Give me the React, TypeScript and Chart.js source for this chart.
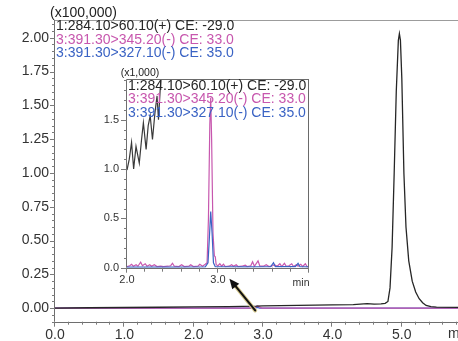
import React, { useEffect, useRef } from 'react';
import { Chart, registerables } from 'chart.js';
Chart.register(...registerables);

const FONT = '"Liberation Sans", Arial, Helvetica, sans-serif';
const C_BLACK = '#262626';
const C_MAG = '#c757ae';
const C_BLUE = '#3a63c4';

// ---------- main chart (x100,000) ----------
const mainBlackTime = [0.0, 0.5, 1.0, 1.5, 2.0, 2.5, 2.9, 3.0, 3.5, 4.0, 4.3, 4.5, 4.6, 4.7, 4.76, 4.8, 4.83, 4.86, 4.89, 4.92, 4.95, 4.965, 4.98, 5.0, 5.03, 5.06, 5.1, 5.15, 5.2, 5.25, 5.3, 5.35, 5.42, 5.5, 5.81];
const mainBlackVal = [0.0, 0.003, 0.005, 0.007, 0.009, 0.012, 0.015, 0.017, 0.02, 0.024, 0.026, 0.034, 0.03, 0.032, 0.036, 0.05, 0.15, 0.45, 1.0, 1.6, 1.98, 2.03, 1.98, 1.7, 1.0, 0.6, 0.35, 0.2, 0.12, 0.07, 0.04, 0.02, 0.012, 0.008, 0.006];
const mainMagTime = [0.0, 2.86, 2.92, 2.98, 5.81];
const mainMagVal = [0.0, 0.0, 0.017, 0.0, 0.0];
const mainBlueTime = [0.0, 2.88, 2.92, 2.95, 5.81];
const mainBlueVal = [0.0, 0.0, 0.0057, 0.0, 0.0];
const mainXTicks = [0, 1, 2, 3, 4, 5];
const mainXLabels = ['0.0', '1.0', '2.0', '3.0', '4.0', '5.0'];
const mainYTicks = [0, 0.25, 0.5, 0.75, 1.0, 1.25, 1.5, 1.75, 2.0];
const mainYLabels = ['0.00', '0.25', '0.50', '0.75', '1.00', '1.25', '1.50', '1.75', '2.00'];
const arrowFrom = [2.886, -0.017];
const arrowTo = [2.515, 0.218];

// ---------- inset chart (x1,000) ----------
const insetBlackTime = [2.0, 2.025, 2.05, 2.073, 2.099, 2.135, 2.16, 2.18, 2.21, 2.233, 2.255, 2.28, 2.307, 2.33, 2.346, 2.365, 2.38, 2.4, 2.5, 3.0, 4.0];
const insetBlackVal = [0.99, 1.1, 1.27, 1.0, 1.23, 1.06, 1.3, 1.47, 1.2, 1.44, 1.54, 1.3, 1.57, 1.74, 1.5, 1.81, 2.0, 2.3, 2.8, 3.2, 3.5];
const insetMagTime = [2.0, 2.03, 2.05, 2.07, 2.1, 2.12, 2.15, 2.17, 2.2, 2.22, 2.25, 2.27, 2.3, 2.33, 2.37, 2.4, 2.45, 2.48, 2.5, 2.52, 2.57, 2.6, 2.63, 2.68, 2.7, 2.73, 2.78, 2.8, 2.83, 2.86, 2.88, 2.895, 2.91, 2.92, 2.93, 2.945, 2.96, 2.97, 2.98, 3.0, 3.02, 3.04, 3.06, 3.08, 3.12, 3.15, 3.17, 3.2, 3.22, 3.26, 3.3, 3.32, 3.36, 3.38, 3.4, 3.44, 3.46, 3.5, 3.53, 3.56, 3.6, 3.62, 3.65, 3.68, 3.7, 3.73, 3.75, 3.78, 3.81, 3.83, 3.86, 3.88, 3.91, 3.93, 3.96, 3.98, 4.0];
const insetMagVal = [0.01, 0.02, 0.035, 0.015, 0.03, 0.015, 0.055, 0.02, 0.04, 0.015, 0.03, 0.015, 0.03, 0.012, 0.015, 0.01, 0.015, 0.02, 0.045, 0.015, 0.012, 0.03, 0.012, 0.015, 0.03, 0.012, 0.015, 0.035, 0.015, 0.035, 0.05, 0.5, 1.45, 1.72, 1.3, 0.35, 0.12, 0.11, 0.03, 0.02, 0.04, 0.015, 0.035, 0.012, 0.015, 0.03, 0.015, 0.03, 0.012, 0.015, 0.025, 0.012, 0.02, 0.06, 0.015, 0.07, 0.015, 0.015, 0.03, 0.012, 0.02, 0.03, 0.015, 0.04, 0.012, 0.045, 0.015, 0.02, 0.04, 0.012, 0.03, 0.015, 0.035, 0.012, 0.04, 0.01, 0.015];
const insetBlueTime = [2.0, 2.5, 2.86, 2.89, 2.905, 2.92, 2.935, 2.95, 2.97, 3.3, 3.58, 3.61, 3.63, 3.85, 3.88, 3.9, 4.0];
const insetBlueVal = [0.005, 0.006, 0.008, 0.05, 0.3, 0.57, 0.35, 0.05, 0.01, 0.008, 0.01, 0.05, 0.01, 0.01, 0.045, 0.01, 0.008];
const insetXTicks = [2, 3];
const insetXLabels = ['2.0', '3.0'];
const insetYTicks = [0, 0.5, 1.0, 1.5];
const insetYLabels = ['0.0', '0.5', '1.0', '1.5'];

const legendLabels = ['1:284.10>60.10(+) CE: -29.0', '3:391.30>345.20(-) CE: 33.0', '3:391.30>327.10(-) CE: 35.0'];
const legendColors = [C_BLACK, C_MAG, C_BLUE];

const pts = (xs: number[], ys: number[]) => xs.map((x, i) => ({ x, y: ys[i] }));

function line(data: any[], color: string, width: number) {
  return { data, borderColor: color, borderWidth: width, pointRadius: 0, tension: 0, fill: false };
}

function drawTicks(ctx: CanvasRenderingContext2D, chart: any, cfg: any) {
  const { left, right, top, bottom } = chart.chartArea;
  const xs = chart.scales.x;
  const ys = chart.scales.y;
  ctx.save();
  ctx.strokeStyle = '#6e6e6e';
  ctx.lineWidth = 1;
  ctx.beginPath();
  // left axis + bottom axis
  ctx.moveTo(Math.round(left) - 0.5, top);
  ctx.lineTo(Math.round(left) - 0.5, bottom);
  ctx.moveTo(left, Math.round(bottom) + 0.5);
  ctx.lineTo(right, Math.round(bottom) + 0.5);
  ctx.stroke();
  // frame top / right
  ctx.strokeStyle = cfg.frameColor;
  ctx.beginPath();
  ctx.moveTo(left, Math.round(top) + 0.5);
  ctx.lineTo(right, Math.round(top) + 0.5);
  if (cfg.rightBorder) {
    ctx.moveTo(Math.round(right) - 0.5, top);
    ctx.lineTo(Math.round(right) - 0.5, bottom);
  }
  ctx.stroke();
  ctx.strokeStyle = '#7a7a7a';
  ctx.beginPath();
  for (let k = 0; ; k++) {
    const v = cfg.yMin + k * cfg.yMinor;
    if (v > cfg.yMax + 1e-9) break;
    const major = Math.abs(v / cfg.yMajor - Math.round(v / cfg.yMajor)) < 1e-6;
    const y = Math.round(ys.getPixelForValue(v)) + 0.5;
    const len = major ? cfg.yMajorLen : cfg.yMinorLen;
    ctx.moveTo(left - len, y);
    ctx.lineTo(left, y);
  }
  for (let k = 0; ; k++) {
    const v = cfg.xMin + k * cfg.xMinor;
    if (v > cfg.xMax + 1e-9) break;
    const major = Math.abs(v / cfg.xMajor - Math.round(v / cfg.xMajor)) < 1e-6;
    const x = Math.round(xs.getPixelForValue(v)) - 0.5;
    const len = major ? cfg.xMajorLen : cfg.xMinorLen;
    ctx.moveTo(x, bottom);
    ctx.lineTo(x, bottom + len);
  }
  ctx.stroke();
  ctx.restore();
}

function drawLegend(ctx: CanvasRenderingContext2D, x: number, ys: number[], size: number) {
  ctx.save();
  ctx.font = `${size}px ${FONT}`;
  ctx.textAlign = 'left';
  ctx.textBaseline = 'middle';
  legendLabels.forEach((t, i) => {
    ctx.fillStyle = legendColors[i];
    ctx.fillText(t, x, ys[i]);
  });
  ctx.restore();
}

export default function App() {
  const mainRef = useRef<HTMLCanvasElement>(null);
  const insetRef = useRef<HTMLCanvasElement>(null);

  useEffect(() => {
    document.body.style.margin = '0';
    const mainDecor = {
      id: 'mainDecor',
      afterDatasetsDraw(chart: any) {
        const ctx = chart.ctx;
        drawTicks(ctx, chart, {
          frameColor: '#9c9c9c', rightBorder: false,
          yMin: -0.1, yMax: 2.1, yMinor: 0.05, yMajor: 0.25, yMajorLen: 5, yMinorLen: 3,
          xMin: 0, xMax: 5.8, xMinor: 0.2, xMajor: 1, xMajorLen: 5, xMinorLen: 3,
        });
        // arrow
        const xs = chart.scales.x, ys = chart.scales.y;
        const x1 = xs.getPixelForValue(arrowFrom[0]), y1 = ys.getPixelForValue(arrowFrom[1]);
        const x2 = xs.getPixelForValue(arrowTo[0]), y2 = ys.getPixelForValue(arrowTo[1]);
        const ang = Math.atan2(y2 - y1, x2 - x1);
        const hl = 10, hw = 4.5;
        const bx = x2 - hl * Math.cos(ang), by = y2 - hl * Math.sin(ang);
        const px = -Math.sin(ang), py = Math.cos(ang);
        ctx.save();
        ctx.lineCap = 'round';
        ctx.strokeStyle = '#d6c98f';
        ctx.lineWidth = 4;
        ctx.beginPath(); ctx.moveTo(x1, y1); ctx.lineTo(bx, by); ctx.stroke();
        ctx.strokeStyle = '#111';
        ctx.lineWidth = 2;
        ctx.beginPath(); ctx.moveTo(x1, y1); ctx.lineTo(bx, by); ctx.stroke();
        ctx.fillStyle = '#111';
        ctx.beginPath();
        ctx.moveTo(x2, y2);
        ctx.lineTo(bx + px * hw, by + py * hw);
        ctx.lineTo(bx - px * hw, by - py * hw);
        ctx.closePath();
        ctx.fill();
        ctx.restore();
      },
      afterDraw(chart: any) {
        const ctx = chart.ctx;
        drawLegend(ctx, 56, [26, 40, 53.5], 14);
        ctx.save();
        ctx.fillStyle = '#222';
        ctx.font = `14px ${FONT}`;
        ctx.textBaseline = 'middle';
        ctx.textAlign = 'left';
        ctx.fillText('(x100,000)', 50, 13);
        ctx.fillStyle = '#333';
        ctx.fillText('min', 448, 334);
        ctx.restore();
      },
    };

    const main = new Chart(mainRef.current!, {
      type: 'line',
      data: {
        datasets: [
          line(pts(mainBlackTime, mainBlackVal), C_BLACK, 1.3),
          line(pts(mainMagTime, mainMagVal), C_MAG, 1.3),
          line(pts(mainBlueTime, mainBlueVal), C_BLUE, 1.2),
        ] as any,
      },
      options: {
        animation: false,
        responsive: false,
        events: [],
        layout: { padding: { left: 0, top: 20, right: 0, bottom: 0 } },
        plugins: { legend: { display: false }, tooltip: { enabled: false } },
        scales: {
          x: {
            type: 'linear', min: 0, max: 5.81,
            grid: { display: false, drawTicks: false },
            border: { display: false },
            afterBuildTicks: (s: any) => { s.ticks = mainXTicks.map((value) => ({ value })); },
            afterFit: (s: any) => { s.height = 19.3; },
            ticks: {
              autoSkip: false, maxRotation: 0, padding: 5, color: '#333',
              font: { family: FONT, size: 14 },
              callback: (_v: any, i: number) => mainXLabels[i],
            },
          },
          y: {
            type: 'linear', min: -0.1, max: 2.131,
            grid: { display: false, drawTicks: false },
            border: { display: false },
            afterBuildTicks: (s: any) => { s.ticks = mainYTicks.map((value) => ({ value })); },
            afterFit: (s: any) => { s.width = 55; },
            ticks: {
              autoSkip: false, padding: 6, color: '#333',
              font: { family: FONT, size: 14 },
              callback: (_v: any, i: number) => mainYLabels[i],
            },
          },
        },
      },
      plugins: [mainDecor],
    } as any);

    const insetDecor = {
      id: 'insetDecor',
      afterDatasetsDraw(chart: any) {
        drawTicks(chart.ctx, chart, {
          frameColor: '#6a6a6a', rightBorder: true,
          yMin: 0, yMax: 1.9, yMinor: 0.1, yMajor: 0.5, yMajorLen: 6, yMinorLen: 3,
          xMin: 2, xMax: 4, xMinor: 0.2, xMajor: 1, xMajorLen: 5, xMinorLen: 4,
        });
      },
      afterDraw(chart: any) {
        const ctx = chart.ctx;
        // inset canvas offset: left 95, top 62
        drawLegend(ctx, 128 - 95, [86 - 62, 99.5 - 62, 113 - 62], 14);
        ctx.save();
        ctx.fillStyle = '#222';
        ctx.font = `10.5px ${FONT}`;
        ctx.textBaseline = 'middle';
        ctx.textAlign = 'left';
        ctx.fillText('(x1,000)', 120.7 - 95, 73.5 - 62);
        ctx.fillStyle = '#333';
        ctx.textAlign = 'right';
        ctx.fillText('min', 309.5 - 95, 283 - 62);
        ctx.restore();
      },
    };

    const inset = new Chart(insetRef.current!, {
      type: 'line',
      data: {
        datasets: [
          line(pts(insetBlueTime, insetBlueVal), C_BLUE, 1.2),
          line(pts(insetMagTime, insetMagVal), C_MAG, 1.2),
          line(pts(insetBlackTime, insetBlackVal), '#3a3a3a', 1.2),
        ] as any,
      },
      options: {
        animation: false,
        responsive: false,
        events: [],
        layout: { padding: { left: 0, top: 17.3, right: 11, bottom: 0 } },
        plugins: { legend: { display: false }, tooltip: { enabled: false } },
        scales: {
          x: {
            type: 'linear', min: 2, max: 4,
            grid: { display: false, drawTicks: false },
            border: { display: false },
            afterBuildTicks: (s: any) => { s.ticks = insetXTicks.map((value) => ({ value })); },
            afterFit: (s: any) => { s.height = 26.3; },
            ticks: {
              autoSkip: false, maxRotation: 0, padding: 6, color: '#333',
              font: { family: FONT, size: 11 },
              callback: (_v: any, i: number) => insetXLabels[i],
            },
          },
          y: {
            type: 'linear', min: 0, max: 1.91,
            grid: { display: false, drawTicks: false },
            border: { display: false },
            afterBuildTicks: (s: any) => { s.ticks = insetYTicks.map((value) => ({ value })); },
            afterFit: (s: any) => { s.width = 32; },
            ticks: {
              autoSkip: false, padding: 8, color: '#333',
              font: { family: FONT, size: 11 },
              callback: (_v: any, i: number) => insetYLabels[i],
            },
          },
        },
      },
      plugins: [insetDecor],
    } as any);

    return () => {
      main.destroy();
      inset.destroy();
    };
  }, []);

  return (
    <div style={{ position: 'fixed', left: 0, top: 0, width: 458, height: 341, background: '#fff' }}>
      <canvas ref={mainRef} width={458} height={341} style={{ position: 'absolute', left: 0, top: 0, width: 458, height: 341 }} />
      <canvas ref={insetRef} width={225} height={232} style={{ position: 'absolute', left: 95, top: 62, width: 225, height: 232 }} />
    </div>
  );
}
